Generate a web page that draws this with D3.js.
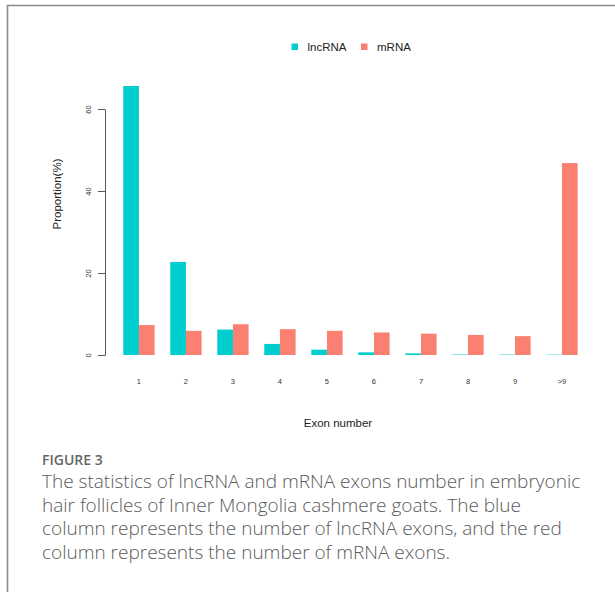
<!DOCTYPE html>
<html>
<head>
<meta charset="utf-8">
<script src="https://cdn.jsdelivr.net/npm/d3@7"></script>
<style>
  html, body { margin: 0; padding: 0; background: #fff; }
  svg { display: block; }
</style>
</head>
<body>
<svg id="chart" width="615" height="592"></svg>
<script>
// ---- data ----
const categories = ["1", "2", "3", "4", "5", "6", "7", "8", "9", ">9"];
const seriesNames = ["lncRNA", "mRNA"];
const lncRNA = [65.6, 22.7, 6.2, 2.7, 1.3, 0.65, 0.4, 0.12, 0.1, 0.08];
const mRNA = [7.3, 5.9, 7.5, 6.3, 5.9, 5.5, 5.2, 4.9, 4.6, 46.8];
const yTicks = [0, 20, 40, 60];
const captionTitle = "FIGURE 3";
const captionLines = [
  "The statistics of lncRNA and mRNA exons number in embryonic",
  "hair follicles of Inner Mongolia cashmere goats. The blue",
  "column represents the number of lncRNA exons, and the red",
  "column represents the number of mRNA exons."
];

const colors = { lncRNA: "#00CDCD", mRNA: "#FA8072" };
const table = categories.map((c, i) => ({ cat: c, lncRNA: lncRNA[i], mRNA: mRNA[i] }));

const svg = d3.select("#chart");
const FONT = "'Liberation Sans', Arial, Helvetica, sans-serif";

// frame
svg.append("path")
  .attr("d", "M7.5,592 V5.5 H615")
  .attr("fill", "none")
  .attr("stroke", "#8a8a8a")
  .attr("stroke-width", 1.6);

// scales
const x0 = d3.scaleBand().domain(categories)
  .range([107.6, 593.3]).paddingInner(1 / 3).paddingOuter(1 / 3);
const x1 = d3.scaleBand().domain(seriesNames).range([0, x0.bandwidth()]);
const y = d3.scaleLinear().domain([0, 60]).range([355, 109]);

// bars
const groups = svg.append("g").selectAll("g").data(table).join("g")
  .attr("transform", d => `translate(${x0(d.cat)},0)`);
groups.selectAll("rect")
  .data(d => seriesNames.map(k => ({ key: k, value: d[k] })))
  .join("rect")
  .attr("x", d => x1(d.key))
  .attr("width", x1.bandwidth())
  .attr("y", d => y(d.value))
  .attr("height", d => y(0) - y(d.value))
  .attr("fill", d => colors[d.key]);

// y axis
const yAxis = svg.append("g")
  .attr("transform", "translate(105,0)")
  .call(d3.axisLeft(y).tickValues(yTicks).tickSize(7).tickSizeOuter(0).tickPadding(0));
yAxis.selectAll("path, line").attr("stroke", "#555").attr("stroke-width", 1);
yAxis.selectAll("text")
  .attr("font-family", FONT)
  .attr("font-size", 7.5)
  .attr("fill", "#333")
  .attr("text-anchor", "middle")
  .attr("x", null).attr("dy", null)
  .attr("transform", "translate(-17,0) rotate(-90)")
  .attr("dominant-baseline", "central")
  .text(d => d);

// x tick labels (no axis line, like R barplot)
const xAxis = svg.append("g")
  .attr("transform", "translate(0,355)")
  .call(d3.axisBottom(x0).tickSize(0).tickPadding(24));
xAxis.select(".domain").remove();
xAxis.selectAll("text")
  .attr("font-family", FONT)
  .attr("font-size", 7.5)
  .attr("fill", "#333");

// axis titles
svg.append("text")
  .attr("x", 338).attr("y", 427)
  .attr("text-anchor", "middle")
  .attr("font-family", FONT).attr("font-size", 11.5).attr("fill", "#222")
  .text("Exon number");
svg.append("text")
  .attr("transform", "translate(61,194) rotate(-90)")
  .attr("text-anchor", "middle")
  .attr("font-family", FONT).attr("font-size", 11.5).attr("fill", "#222")
  .text("Proportion(%)");

// legend
const legend = svg.append("g");
const legendItems = [
  { key: "lncRNA", x: 291.5 },
  { key: "mRNA", x: 361 }
];
legendItems.forEach(it => {
  legend.append("rect")
    .attr("x", it.x).attr("y", 43.5).attr("width", 6.5).attr("height", 6.5)
    .attr("fill", colors[it.key]);
  legend.append("text")
    .attr("x", it.x + 16).attr("y", 50.5)
    .attr("font-family", FONT).attr("font-size", 11.5).attr("fill", "#222")
    .text(it.key);
});

// caption
svg.append("text")
  .attr("x", 42).attr("y", 465)
  .attr("font-family", "'Open Sans', 'Noto Sans', sans-serif")
  .attr("font-size", 14).attr("font-weight", 600).attr("fill", "#666")
  .text(captionTitle);
svg.append("g").selectAll("text").data(captionLines).join("text")
  .attr("x", 42)
  .attr("y", (d, i) => 488 + i * 23.6)
  .attr("font-family", "'Open Sans', 'Noto Sans', sans-serif")
  .attr("font-size", 19).attr("font-weight", 300).attr("fill", "#5a5a5a")
  .text(d => d);
</script>
</body>
</html>
